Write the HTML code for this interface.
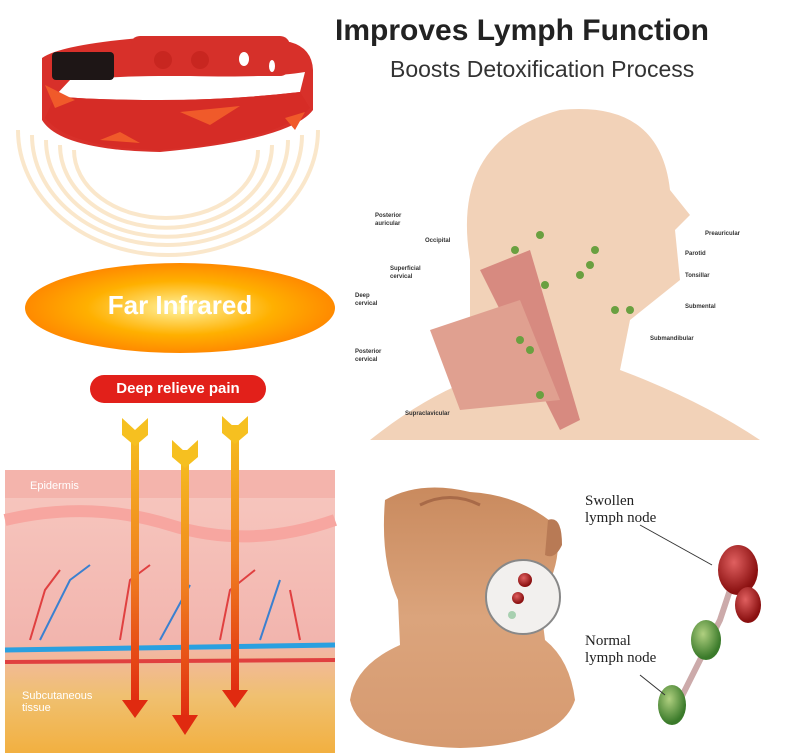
<!DOCTYPE html>
<html><head><style>
body{margin:0;width:800px;height:753px;background:#fff;position:relative;overflow:hidden;font-family:"Liberation Sans",sans-serif}
.a{position:absolute}
</style></head><body>
<svg class="a" style="left:0;top:0" width="800" height="753">
<defs>
<radialGradient id="og" cx="50%" cy="50%" r="50%"><stop offset="0" stop-color="#fff3a0"/><stop offset="0.6" stop-color="#ffb000"/><stop offset="1" stop-color="#ff8a00"/></radialGradient>
<linearGradient id="ar" x1="0" y1="0" x2="0" y2="1"><stop offset="0" stop-color="#f6c020"/><stop offset="0.5" stop-color="#f08020"/><stop offset="1" stop-color="#e02a10"/></linearGradient>
<linearGradient id="sk" x1="0" y1="0" x2="0" y2="1"><stop offset="0" stop-color="#f7c8c0"/><stop offset="0.6" stop-color="#f2b5ae"/><stop offset="0.8" stop-color="#f0c070"/><stop offset="1" stop-color="#f2b040"/></linearGradient>
<radialGradient id="ln" cx="40%" cy="35%" r="60%"><stop offset="0" stop-color="#e06060"/><stop offset="1" stop-color="#8a1010"/></radialGradient>
<radialGradient id="gn" cx="40%" cy="35%" r="60%"><stop offset="0" stop-color="#b0d080"/><stop offset="1" stop-color="#3a7a2a"/></radialGradient>
<linearGradient id="nk" x1="0" y1="0" x2="0" y2="1"><stop offset="0" stop-color="#c98a5e"/><stop offset="0.5" stop-color="#dba47c"/><stop offset="1" stop-color="#d69a70"/></linearGradient>
</defs>
<!-- rings -->
<g fill="none" stroke="#fae2bf" stroke-width="4" opacity="0.8">
<path d="M18 130 A150 125 0 0 0 318 130"/>
<path d="M32 135 A135 110 0 0 0 302 135"/>
<path d="M46 140 A120 96 0 0 0 288 140"/>
<path d="M60 145 A105 82 0 0 0 272 145"/>
<path d="M74 150 A92 68 0 0 0 258 150"/>
</g>
<!-- bracelet -->
<path d="M42 58 Q60 45 140 38 L290 42 Q312 48 313 70 L313 110 Q290 140 160 152 Q60 150 42 120Z" fill="#d8302a"/>
<path d="M70 80 Q130 75 190 76 Q270 78 305 72 L300 92 Q230 100 160 100 Q90 100 55 96Z" fill="#fff"/>
<path d="M55 96 Q90 100 160 100 Q230 100 300 92 L310 108 Q280 140 160 150 Q70 148 45 118Z" fill="#d62c26"/>
<rect x="52" y="52" width="62" height="28" rx="4" fill="#1e1616"/>
<rect x="130" y="36" width="160" height="40" rx="10" fill="#d6302a"/>
<g fill="#c82620"><circle cx="163" cy="60" r="9"/><circle cx="200" cy="60" r="9"/></g>
<ellipse cx="244" cy="59" rx="5" ry="7" fill="#fff"/><ellipse cx="272" cy="66" rx="3" ry="6" fill="#fff"/>
<g fill="#f05a2a"><path d="M45 85 L75 100 L55 108Z"/><path d="M180 112 L240 106 L210 125Z"/><path d="M100 140 L120 132 L140 143Z"/><path d="M285 118 L305 112 L295 130Z"/></g>
<!-- far infrared -->
<ellipse cx="180" cy="308" rx="155" ry="45" fill="url(#og)"/>
<rect x="90" y="375" width="176" height="28" rx="14" fill="#e2201a"/>
<!-- skin -->
<rect x="5" y="470" width="330" height="283" fill="url(#sk)"/>
<rect x="5" y="470" width="330" height="28" fill="#f4b4ac"/>
<path d="M5 520 Q90 500 170 525 T335 520" stroke="#f7a6a0" stroke-width="12" fill="none"/>
<line x1="5" y1="650" x2="335" y2="645" stroke="#2aa0e0" stroke-width="5"/>
<line x1="5" y1="662" x2="335" y2="660" stroke="#e04040" stroke-width="4"/>
<g stroke="#e04040" stroke-width="2" fill="none"><path d="M30 640 L45 590 L60 570"/><path d="M120 640 L130 580 L150 565"/><path d="M220 640 L230 590 L255 570"/><path d="M300 640 L290 590"/></g>
<g stroke="#3a80d0" stroke-width="2" fill="none"><path d="M40 640 L70 580 L90 565"/><path d="M160 640 L190 585"/><path d="M260 640 L280 580"/></g>
<!-- arrows -->
<g fill="url(#ar)"><rect x="131" y="430" width="8" height="275"/><rect x="181" y="450" width="8" height="270"/><rect x="231" y="425" width="8" height="270"/></g>
<g fill="#e02a10"><path d="M122 700 L148 700 L135 718Z"/><path d="M172 715 L198 715 L185 735Z"/><path d="M222 690 L248 690 L235 708Z"/></g>
<g fill="#f6c020"><path d="M122 418 L135 430 L148 418 L148 435 L135 446 L122 435Z"/><path d="M172 440 L185 452 L198 440 L198 457 L185 468 L172 457Z"/><path d="M222 416 L235 428 L248 416 L248 433 L235 444 L222 433Z"/></g>
<!-- head -->
<path d="M470 260 Q450 140 560 110 Q660 100 670 190 L690 215 L675 230 L680 280 L630 320 L620 370 Q700 400 760 440 L370 440 Q420 400 470 380Z" fill="#f2d2b8"/>
<path d="M480 270 L530 250 L580 420 L560 430Z" fill="#d78a80"/>
<path d="M430 330 L520 300 L560 400 L460 410Z" fill="#e0a090"/>
<g fill="#6aa040"><circle cx="540" cy="235" r="4"/><circle cx="515" cy="250" r="4"/><circle cx="595" cy="250" r="4"/><circle cx="590" cy="265" r="4"/><circle cx="580" cy="275" r="4"/><circle cx="615" cy="310" r="4"/><circle cx="630" cy="310" r="4"/><circle cx="520" cy="340" r="4"/><circle cx="530" cy="350" r="4"/><circle cx="540" cy="395" r="4"/><circle cx="545" cy="285" r="4"/></g>
<!-- neck -->
<path d="M385 500 Q420 480 470 492 Q520 495 555 525 Q565 560 540 600 L545 640 Q570 660 575 700 Q560 745 460 748 Q360 745 350 700 Q355 665 400 645 L398 600 Q380 560 385 500Z" fill="url(#nk)"/>
<path d="M420 505 Q450 490 480 505" stroke="#a86a48" stroke-width="3" fill="none"/>
<path d="M548 520 Q562 515 562 545 Q555 560 545 555Z" fill="#b87a55"/>
<circle cx="523" cy="597" r="37" fill="#f2f0ee" stroke="#888" stroke-width="2"/>
<circle cx="525" cy="580" r="7" fill="url(#ln)"/><circle cx="518" cy="598" r="6" fill="url(#ln)"/><circle cx="512" cy="615" r="4" fill="#a8d0b0"/>
<!-- nodes -->
<path d="M740 560 L720 620 L700 660 L670 720" stroke="#caa" stroke-width="6" fill="none"/>
<ellipse cx="738" cy="570" rx="20" ry="25" fill="url(#ln)"/>
<ellipse cx="748" cy="605" rx="13" ry="18" fill="url(#ln)"/>
<ellipse cx="706" cy="640" rx="15" ry="20" fill="url(#gn)"/>
<ellipse cx="672" cy="705" rx="14" ry="20" fill="url(#gn)"/>
<g stroke="#333" fill="none"><line x1="640" y1="525" x2="712" y2="565"/><line x1="640" y1="675" x2="665" y2="695"/></g>
</svg>
<div class="a" style="left:335px;top:14px;font-size:30px;font-weight:bold;color:#222">Improves Lymph Function</div>
<div class="a" style="left:390px;top:56px;font-size:23px;color:#333">Boosts Detoxification Process</div>
<div class="a" style="left:70px;top:290px;width:220px;text-align:center;font-size:26px;font-weight:bold;color:#fff">Far Infrared</div>
<div class="a" style="left:90px;top:380px;width:176px;text-align:center;font-size:15px;font-weight:bold;color:#fff">Deep relieve pain</div>
<div class="a" style="left:30px;top:480px;font-size:11px;color:#fff">Epidermis</div>
<div class="a" style="left:22px;top:690px;font-size:11px;color:#fff">Subcutaneous<br>tissue</div>
<div class="a" style="left:585px;top:493px;font:15px 'Liberation Serif',serif;color:#222;line-height:17px">Swollen<br>lymph node</div>
<div class="a" style="left:585px;top:633px;font:15px 'Liberation Serif',serif;color:#222;line-height:17px">Normal<br>lymph node</div>
<div class="a" style="left:370px;top:200px;font-size:6px;line-height:8px;color:#333">
<div style="position:absolute;left:5px;top:12px;font-weight:bold">Posterior auricular</div>
<div style="position:absolute;left:55px;top:37px;font-weight:bold">Occipital</div>
<div style="position:absolute;left:20px;top:65px;font-weight:bold">Superficial cervical</div>
<div style="position:absolute;left:-15px;top:92px;font-weight:bold">Deep cervical</div>
<div style="position:absolute;left:-15px;top:148px;font-weight:bold">Posterior cervical</div>
<div style="position:absolute;left:35px;top:210px;font-weight:bold">Supraclavicular</div>
<div style="position:absolute;left:335px;top:30px;font-weight:bold">Preauricular</div>
<div style="position:absolute;left:315px;top:50px;font-weight:bold">Parotid</div>
<div style="position:absolute;left:315px;top:72px;font-weight:bold">Tonsillar</div>
<div style="position:absolute;left:315px;top:103px;font-weight:bold">Submental</div>
<div style="position:absolute;left:280px;top:135px;font-weight:bold">Submandibular</div>
</div>
</body></html>
